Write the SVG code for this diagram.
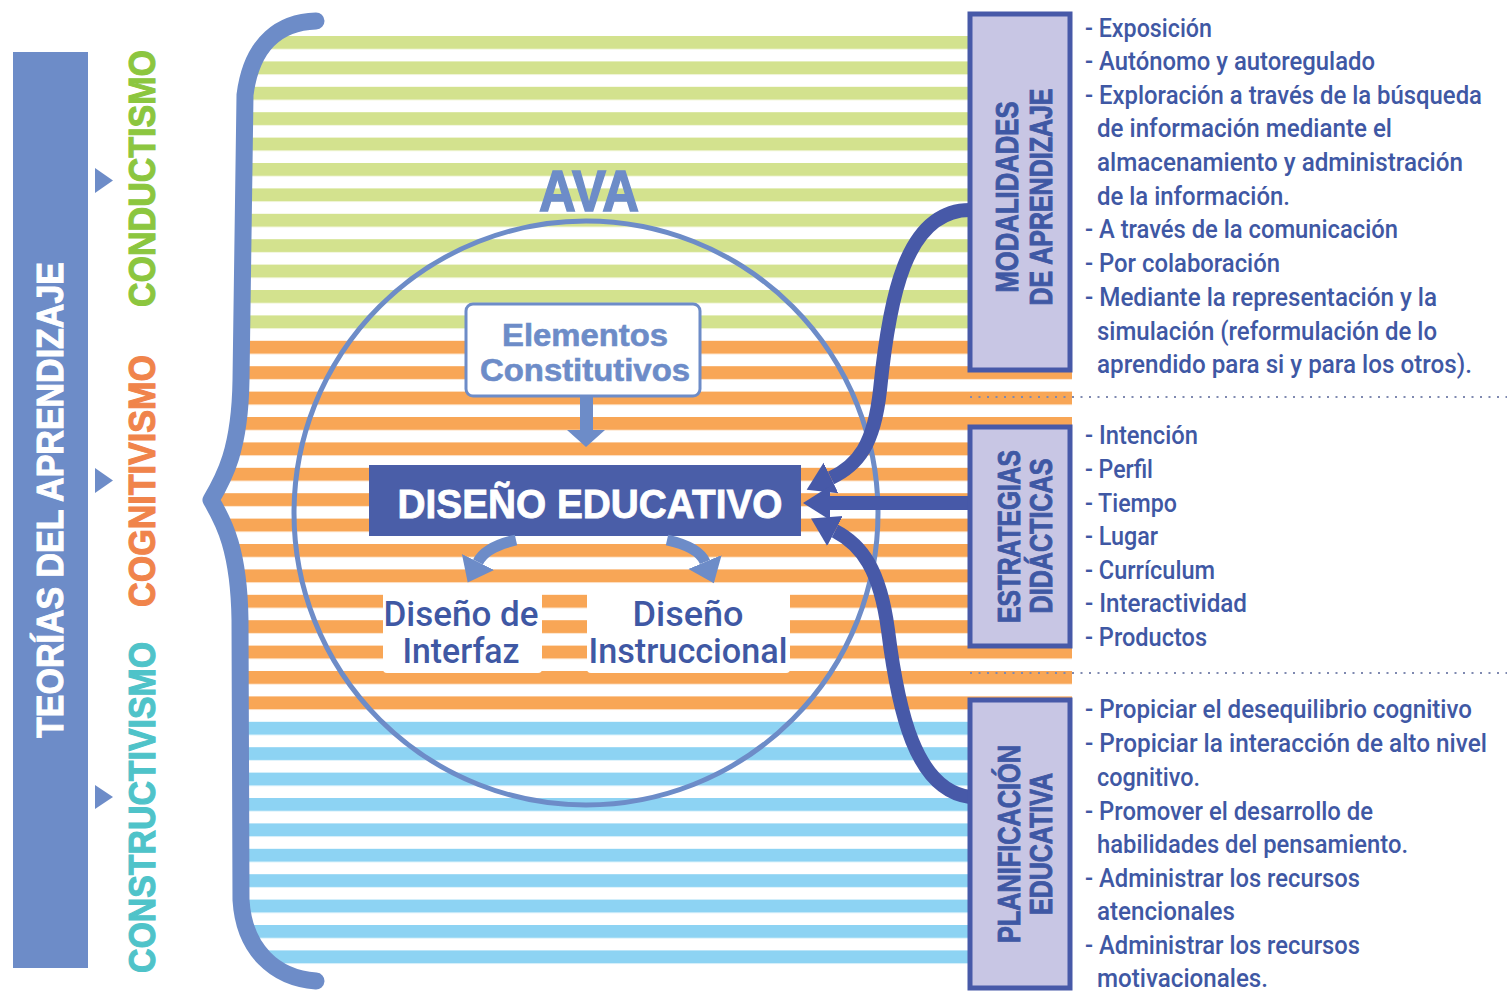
<svg xmlns="http://www.w3.org/2000/svg" width="1511" height="998" viewBox="0 0 1511 998">
<style>
.hdr{font-family:"Liberation Sans Narrow","Liberation Sans",sans-serif;font-weight:bold;}
.lst{font-family:Roboto,"Liberation Sans",sans-serif;font-weight:500;font-size:25px;fill:#3f58a4;}
.sub{font-family:Roboto,"Liberation Sans",sans-serif;font-weight:500;font-size:35px;fill:#3f58a4;text-anchor:middle;}
.vt{font-family:"Liberation Sans",sans-serif;font-weight:bold;font-size:31px;fill:#3f58a4;stroke:#3f58a4;stroke-width:0.9;text-anchor:middle;}
.side{font-family:"Liberation Sans",sans-serif;font-weight:bold;font-size:37px;stroke-width:1.1;text-anchor:middle;}
.conn{fill:none;stroke:#4759a8;stroke-width:14;}
.lconn{fill:none;stroke:#6d8cc8;stroke-width:11;}
.rbox{fill:#c8c6e4;stroke:#4759a8;stroke-width:5;}
.dots{stroke:#7f89b0;stroke-width:2;stroke-dasharray:2 6.5;}
</style>
<defs>
<pattern id="pg" patternUnits="userSpaceOnUse" x="0" y="36" width="20" height="25.4"><rect x="0" y="0" width="20" height="13" fill="#d3e28e"/></pattern>
<pattern id="po" patternUnits="userSpaceOnUse" x="0" y="36" width="20" height="25.4"><rect x="0" y="0" width="20" height="13" fill="#f8a656"/></pattern>
<pattern id="pb" patternUnits="userSpaceOnUse" x="0" y="36" width="20" height="25.4"><rect x="0" y="0" width="20" height="13" fill="#8dd3f3"/></pattern>
<clipPath id="sc"><path d="M316,21 C283,22 252,40 245,95 L241,380 C240,450 224,478 211,500 C224,522 239,550 240,620 L241,900 C244,950 275,978 316,981 L1072,981 L1072,21 Z"/></clipPath>
<marker id="ah" markerUnits="userSpaceOnUse" markerWidth="30" markerHeight="38" refX="0" refY="19" orient="auto"><path d="M0,2 L27,19 L0,36 Z" fill="#4759a8"/></marker>
<marker id="lh" markerUnits="userSpaceOnUse" markerWidth="26" markerHeight="40" refX="0" refY="20" orient="auto"><path d="M0,2 L23,20 L0,38 Z" fill="#6d8cc8"/></marker>
</defs>
<rect width="1511" height="998" fill="#ffffff"/>

<g id="stripes" clip-path="url(#sc)">
<rect x="200" y="36" width="880" height="304" fill="url(#pg)"/>
<rect x="200" y="340" width="880" height="380" fill="url(#po)"/>
<rect x="200" y="720" width="880" height="245" fill="url(#pb)"/>
</g>

<g id="bracket"><path d="M316,21 C283,22 252,40 245,95 L241,380 C240,450 224,478 211,500 C224,522 239,550 240,620 L241,900 C244,950 275,978 316,981" fill="none" stroke="#6d8cc8" stroke-width="17" stroke-linecap="round" stroke-linejoin="round"/></g>

<g id="teorias">
<rect x="13" y="52" width="75" height="916" fill="#6d8cc8"/>
<text class="hdr" font-size="37" fill="#ffffff" stroke="#ffffff" stroke-width="1" text-anchor="middle" transform="translate(63,500) rotate(-90)" textLength="476" lengthAdjust="spacingAndGlyphs">TEORÍAS DEL APRENDIZAJE</text>
</g>

<g id="conductismo">
<polygon points="95,168 113,180.5 95,193" fill="#6d8cc8"/>
<text class="side" fill="#8cc63f" stroke="#8cc63f" transform="translate(155,178.5) rotate(-90)" textLength="257" lengthAdjust="spacingAndGlyphs">CONDUCTISMO</text>
</g>
<g id="cognitivismo">
<polygon points="95,468 113,480.5 95,493" fill="#6d8cc8"/>
<text class="side" fill="#f0844b" stroke="#f0844b" transform="translate(155,481) rotate(-90)" textLength="252" lengthAdjust="spacingAndGlyphs">COGNITIVISMO</text>
</g>
<g id="constructivismo">
<polygon points="95,785 113,797 95,809" fill="#6d8cc8"/>
<text class="side" fill="#4fc3c9" stroke="#4fc3c9" transform="translate(155,807.5) rotate(-90)" textLength="331" lengthAdjust="spacingAndGlyphs">CONSTRUCTIVISMO</text>
</g>

<g id="ava">
<circle cx="586" cy="513" r="292" fill="none" stroke="#6d8cc8" stroke-width="5"/>
<text x="589" y="211" font-family="Liberation Sans, sans-serif" font-weight="bold" font-size="57" fill="#6d8cc8" stroke="#6d8cc8" stroke-width="1.5" text-anchor="middle" textLength="100" lengthAdjust="spacingAndGlyphs">AVA</text>
</g>

<g id="elementos">
<rect x="466" y="304" width="234" height="92" rx="7" fill="#ffffff" stroke="#6d8cc8" stroke-width="3"/>
<text x="585" y="346" font-family="Liberation Sans, sans-serif" font-weight="bold" font-size="31" fill="#6d8cc8" stroke="#6d8cc8" stroke-width="0.6" text-anchor="middle" textLength="166" lengthAdjust="spacingAndGlyphs">Elementos</text>
<text x="585" y="381" font-family="Liberation Sans, sans-serif" font-weight="bold" font-size="31" fill="#6d8cc8" stroke="#6d8cc8" stroke-width="0.6" text-anchor="middle" textLength="210" lengthAdjust="spacingAndGlyphs">Constitutivos</text>
</g>

<g id="diseno-educativo">
<rect x="369" y="465" width="432" height="71" fill="#4a5ea8"/>
<text x="590" y="518" font-family="Liberation Sans, sans-serif" font-weight="bold" font-size="40" fill="#ffffff" stroke="#ffffff" stroke-width="0.8" text-anchor="middle" textLength="385" lengthAdjust="spacingAndGlyphs">DISEÑO EDUCATIVO</text>
</g>

<g id="diseno-interfaz">
<rect x="383" y="588" width="159" height="85" rx="4" fill="#ffffff"/>
<text class="sub" x="461" y="626" textLength="155" lengthAdjust="spacingAndGlyphs">Diseño de</text>
<text class="sub" x="461" y="663" textLength="117" lengthAdjust="spacingAndGlyphs">Interfaz</text>
</g>
<g id="diseno-instruccional">
<rect x="587" y="588" width="203" height="85" rx="4" fill="#ffffff"/>
<text class="sub" x="688" y="626" textLength="111" lengthAdjust="spacingAndGlyphs">Diseño</text>
<text class="sub" x="688" y="663" textLength="199" lengthAdjust="spacingAndGlyphs">Instruccional</text>
</g>

<g id="connectors">
<rect x="580" y="396" width="13" height="35" fill="#6d8cc8"/>
<polygon points="567,430 605,430 586,447" fill="#6d8cc8"/>
<path class="lconn" d="M516,540 C498,544 484,550 478,562" marker-end="url(#lh)"/>
<path class="lconn" d="M667,540 C685,544 700,550 705,562" marker-end="url(#lh)"/>
<path class="conn" d="M970,210 C905,210 889,300 880,390 C874,445 858,465 831,478" marker-end="url(#ah)"/>
<path class="conn" d="M970,503 L830,503" marker-end="url(#ah)"/>
<path class="conn" d="M970,797 C915,790 898,710 888,630 C880,570 862,545 835,531" marker-end="url(#ah)"/>
<line class="dots" x1="970" y1="397" x2="1507" y2="397"/>
<line class="dots" x1="970" y1="673" x2="1507" y2="673"/>
</g>

<g id="modalidades">
<rect class="rbox" x="970" y="14" width="100" height="356"/>
<text class="vt" transform="translate(1018,197) rotate(-90)" textLength="191" lengthAdjust="spacingAndGlyphs">MODALIDADES</text>
<text class="vt" transform="translate(1052,197) rotate(-90)" textLength="217" lengthAdjust="spacingAndGlyphs">DE APRENDIZAJE</text>
<text class="lst" x="1085" y="37" textLength="127" lengthAdjust="spacingAndGlyphs">- Exposición</text>
<text class="lst" x="1085" y="70" textLength="290" lengthAdjust="spacingAndGlyphs">- Autónomo y autoregulado</text>
<text class="lst" x="1085" y="104" textLength="397" lengthAdjust="spacingAndGlyphs">- Exploración a través de la búsqueda</text>
<text class="lst" x="1097" y="137" textLength="295" lengthAdjust="spacingAndGlyphs">de información mediante el</text>
<text class="lst" x="1097" y="171" textLength="366" lengthAdjust="spacingAndGlyphs">almacenamiento y administración</text>
<text class="lst" x="1097" y="205" textLength="193" lengthAdjust="spacingAndGlyphs">de la información.</text>
<text class="lst" x="1085" y="238" textLength="313" lengthAdjust="spacingAndGlyphs">- A través de la comunicación</text>
<text class="lst" x="1085" y="272" textLength="195" lengthAdjust="spacingAndGlyphs">- Por colaboración</text>
<text class="lst" x="1085" y="306" textLength="352" lengthAdjust="spacingAndGlyphs">- Mediante la representación y la</text>
<text class="lst" x="1097" y="340" textLength="340" lengthAdjust="spacingAndGlyphs">simulación (reformulación de lo</text>
<text class="lst" x="1097" y="373" textLength="375" lengthAdjust="spacingAndGlyphs">aprendido para si y para los otros).</text>
</g>

<g id="estrategias">
<rect class="rbox" x="970" y="427" width="100" height="219"/>
<text class="vt" transform="translate(1020,536.5) rotate(-90)" textLength="173" lengthAdjust="spacingAndGlyphs">ESTRATEGIAS</text>
<text class="vt" transform="translate(1052,536) rotate(-90)" textLength="155" lengthAdjust="spacingAndGlyphs">DIDÁCTICAS</text>
<text class="lst" x="1085" y="444" textLength="113" lengthAdjust="spacingAndGlyphs">- Intención</text>
<text class="lst" x="1085" y="478" textLength="68" lengthAdjust="spacingAndGlyphs">- Perfil</text>
<text class="lst" x="1085" y="512" textLength="92" lengthAdjust="spacingAndGlyphs">- Tiempo</text>
<text class="lst" x="1085" y="545" textLength="73" lengthAdjust="spacingAndGlyphs">- Lugar</text>
<text class="lst" x="1085" y="579" textLength="130" lengthAdjust="spacingAndGlyphs">- Currículum</text>
<text class="lst" x="1085" y="612" textLength="162" lengthAdjust="spacingAndGlyphs">- Interactividad</text>
<text class="lst" x="1085" y="646" textLength="122" lengthAdjust="spacingAndGlyphs">- Productos</text>
</g>

<g id="planificacion">
<rect class="rbox" x="970" y="700" width="100" height="288"/>
<text class="vt" transform="translate(1020,844) rotate(-90)" textLength="198" lengthAdjust="spacingAndGlyphs">PLANIFICACIÓN</text>
<text class="vt" transform="translate(1052,844) rotate(-90)" textLength="142" lengthAdjust="spacingAndGlyphs">EDUCATIVA</text>
<text class="lst" x="1085" y="718" textLength="387" lengthAdjust="spacingAndGlyphs">- Propiciar el desequilibrio cognitivo</text>
<text class="lst" x="1085" y="752" textLength="402" lengthAdjust="spacingAndGlyphs">- Propiciar la interacción de alto nivel</text>
<text class="lst" x="1097" y="786" textLength="103" lengthAdjust="spacingAndGlyphs">cognitivo.</text>
<text class="lst" x="1085" y="820" textLength="288" lengthAdjust="spacingAndGlyphs">- Promover el desarrollo de</text>
<text class="lst" x="1097" y="853" textLength="311" lengthAdjust="spacingAndGlyphs">habilidades del pensamiento.</text>
<text class="lst" x="1085" y="887" textLength="275" lengthAdjust="spacingAndGlyphs">- Administrar los recursos</text>
<text class="lst" x="1097" y="920" textLength="138" lengthAdjust="spacingAndGlyphs">atencionales</text>
<text class="lst" x="1085" y="954" textLength="275" lengthAdjust="spacingAndGlyphs">- Administrar los recursos</text>
<text class="lst" x="1097" y="987" textLength="171" lengthAdjust="spacingAndGlyphs">motivacionales.</text>
</g>
</svg>
